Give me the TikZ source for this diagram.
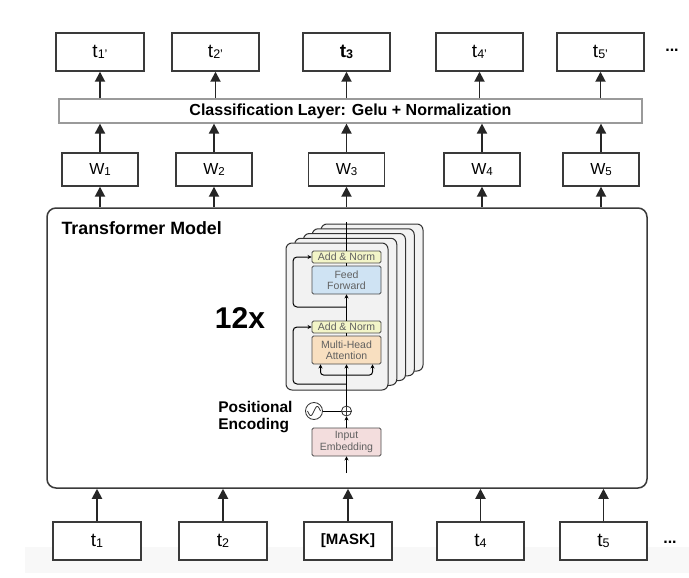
\documentclass[tikz,border=0pt]{standalone}
\usepackage{fontspec}
\setmainfont{Liberation Sans}
\usetikzlibrary{arrows.meta}
\definecolor{bordc}{HTML}{3A3A3A}
\definecolor{clsc}{HTML}{9A9A9A}
\definecolor{layerc}{HTML}{F2F2F2}
\definecolor{anc}{HTML}{F3F5C8}
\definecolor{ffc}{HTML}{CFE3F3}
\definecolor{mhac}{HTML}{F8DFC0}
\definecolor{embc}{HTML}{F3DDDD}
\definecolor{comptext}{HTML}{606060}
\definecolor{stripc}{HTML}{F8F8F8}
\newcommand\mytok[2]{{\fontsize{19}{19}\selectfont #1}\raisebox{-1pt}{\fontsize{12.5}{12.5}\selectfont #2}}
\newcommand\mybtok[2]{{\bfseries\fontsize{19}{19}\selectfont #1}\raisebox{-1pt}{\bfseries\fontsize{12.5}{12.5}\selectfont #2}}
\newcommand\myw[1]{{\fontsize{16}{16}\selectfont W}\raisebox{-1pt}{\fontsize{11.5}{11.5}\selectfont #1}}
\begin{document}
\begin{tikzpicture}[x=1pt,y=-1pt,
  tokbox/.style={draw=bordc, line width=1.4pt, fill=white, minimum width=88pt, minimum height=38pt, inner sep=0pt},
  wbox/.style={draw=bordc, line width=1.4pt, fill=white, minimum width=76pt, minimum height=33pt, inner sep=0pt},
  arr/.style={draw=black!85, line width=1.8pt, -{Triangle[width=10pt,length=10pt]}},
  comp/.style={draw=black!70, line width=0.9pt, rounded corners=1.5pt, minimum width=69pt, inner sep=0pt, align=center, text=comptext, font=\fontsize{10.5}{11.5}\selectfont},
  layer/.style={draw=black!80, line width=1pt, fill=layerc, rounded corners=6pt},
  sline/.style={draw=black, line width=1pt},
  sarr/.style={draw=black, line width=1pt, -{Stealth[length=4pt,width=4pt]}},
  dots/.style={font=\bfseries\fontsize{16}{16}\selectfont}
]
\useasboundingbox (0,0) rectangle (689,578);
\fill[white] (0,0) rectangle (689,578);
\fill[stripc] (25,547) rectangle (689,573);

% output tokens
\node[tokbox] (t1p) at (100,52) {\mytok{t}{1'}};
\node[tokbox, minimum width=87pt] (t2p) at (215.5,52) {\mytok{t}{2'}};
\node[tokbox, minimum width=87pt] (t3p) at (346.5,52) {\mybtok{t}{3}};
\node[tokbox, minimum width=87pt] (t4p) at (479.5,52) {\mytok{t}{4'}};
\node[tokbox, minimum width=87pt] (t5p) at (600.5,52) {\mytok{t}{5'}};
\node[dots] (dtop) at (672,50) {...};

% classification layer
\node[draw=clsc, line width=1.2pt, fill=white, minimum width=583pt, minimum height=24pt, inner sep=0pt,
      font=\bfseries\fontsize{16}{16}\selectfont] (cls) at (350.5,111) {Classification Layer: Gelu + Normalization};

% W boxes
\node[wbox] (w1) at (100,169.5) {\myw{1}};
\node[wbox] (w2) at (214,169.5) {\myw{2}};
\node[wbox] (w3) at (346.5,169.5) {\myw{3}};
\node[wbox] (w4) at (482,169.5) {\myw{4}};
\node[wbox] (w5) at (601,169.5) {\myw{5}};

% transformer box
\node[draw=bordc, line width=1.5pt, rounded corners=9pt, minimum width=600pt, minimum height=280pt, inner sep=0pt] (tm) at (347,348) {};
\node[anchor=west, font=\bfseries\fontsize{17.8}{17.8}\selectfont] (tmlab) at (58,228) {Transformer Model};

% input tokens
\node[tokbox] (b1) at (97,541) {\mytok{t}{1}};
\node[tokbox] (b2) at (223,541) {\mytok{t}{2}};
\node[tokbox] (b3) at (348,541) {\bfseries\fontsize{15}{15}\selectfont [MASK]};
\node[tokbox, minimum width=87pt] (b4) at (480.5,541) {\mytok{t}{4}};
\node[tokbox, minimum width=87pt] (b5) at (603.5,541) {\mytok{t}{5}};
\node[dots] (dbot) at (670,542) {...};

% arrows
\foreach \b in {b1,b2,b3,b4,b5} \draw[arr] (\b.north) -- (\b.north |- tm.south);
\foreach \w in {w1,w2,w3,w4,w5} \draw[arr] (\w.south |- tm.north) -- (\w.south);
\foreach \w in {w1,w2,w3,w4,w5} \draw[arr] (\w.north) -- (\w.north |- cls.south);
\foreach \t in {t1p,t2p,t3p,t4p,t5p} \draw[arr] (\t.south |- cls.north) -- (\t.south);

% stacked layers
\foreach \k in {4,3,2,1,0}
  \draw[layer] ({286+8.75*\k},{243-4.75*\k}) rectangle ({388+8.75*\k},{390-4.75*\k});

% components
\node[comp, fill=anc, minimum height=12pt] (an2) at (346.5,257) {Add \& Norm};
\node[comp, fill=ffc, minimum height=28pt] (ff) at (346.5,280) {Feed\\Forward};
\node[comp, fill=anc, minimum height=12pt] (an1) at (346.5,327) {Add \& Norm};
\node[comp, fill=mhac, minimum height=28pt] (mha) at (346.5,350) {Multi-Head\\Attention};
\node[comp, fill=embc, minimum height=28pt] (emb) at (346.5,442) {Input\\Embedding};
\node[draw=black!80, line width=0.8pt, circle, minimum size=10pt, inner sep=0pt] (plus) at (346.5,411) {};
\draw[black!80, line width=0.8pt] (plus.north) -- (plus.south) (plus.west) -- (plus.east);
\node[draw=black!80, line width=0.8pt, circle, minimum size=17pt, inner sep=0pt] (sine) at (314,411) {};
\draw[black!80, line width=0.8pt, shift={(314,411)}] plot[domain=-6.5:6.5, smooth, samples=27] (\x, {-4.5*sin(\x*27.7)});
\draw[sline] (sine.east) -- (plus.west);

% main flow
\coordinate (ltop) at (346.5,222);
\draw[sline] (ltop) -- (an2.north);
\draw[sline] (ff.north) -- (an2.south);
\draw[sarr] (an1.north) -- (ff.south);
\draw[sline] (mha.north) -- (an1.south);
\draw[sarr] (plus.north) -- (mha.south);
\draw[sarr] (emb.north) -- (plus.south);
\coordinate (embin) at (346.5,473);
\draw[sarr] (embin) -- (emb.south);

% residuals
\coordinate (r2) at (346.5,307);
\draw[sarr, rounded corners=4pt] (r2) -| (293,290) |- (an2.west);
\coordinate (r1) at (346.5,384);
\draw[sarr, rounded corners=4pt] (r1) -| (293,360) |- (an1.west);
\coordinate (br) at (346.5,375);
\draw[sarr, rounded corners=3pt] (br) -| ([xshift=-26pt]mha.south);
\draw[sarr, rounded corners=3pt] (br) -| ([xshift=26pt]mha.south);

% labels
\node[font=\bfseries\fontsize{30}{30}\selectfont] (twelve) at (240,318) {12x};
\node[anchor=east, align=left, font=\bfseries\fontsize{15.5}{17.5}\selectfont] (posenc) at (296,417) {Positional\\Encoding};
\end{tikzpicture}
\end{document}
